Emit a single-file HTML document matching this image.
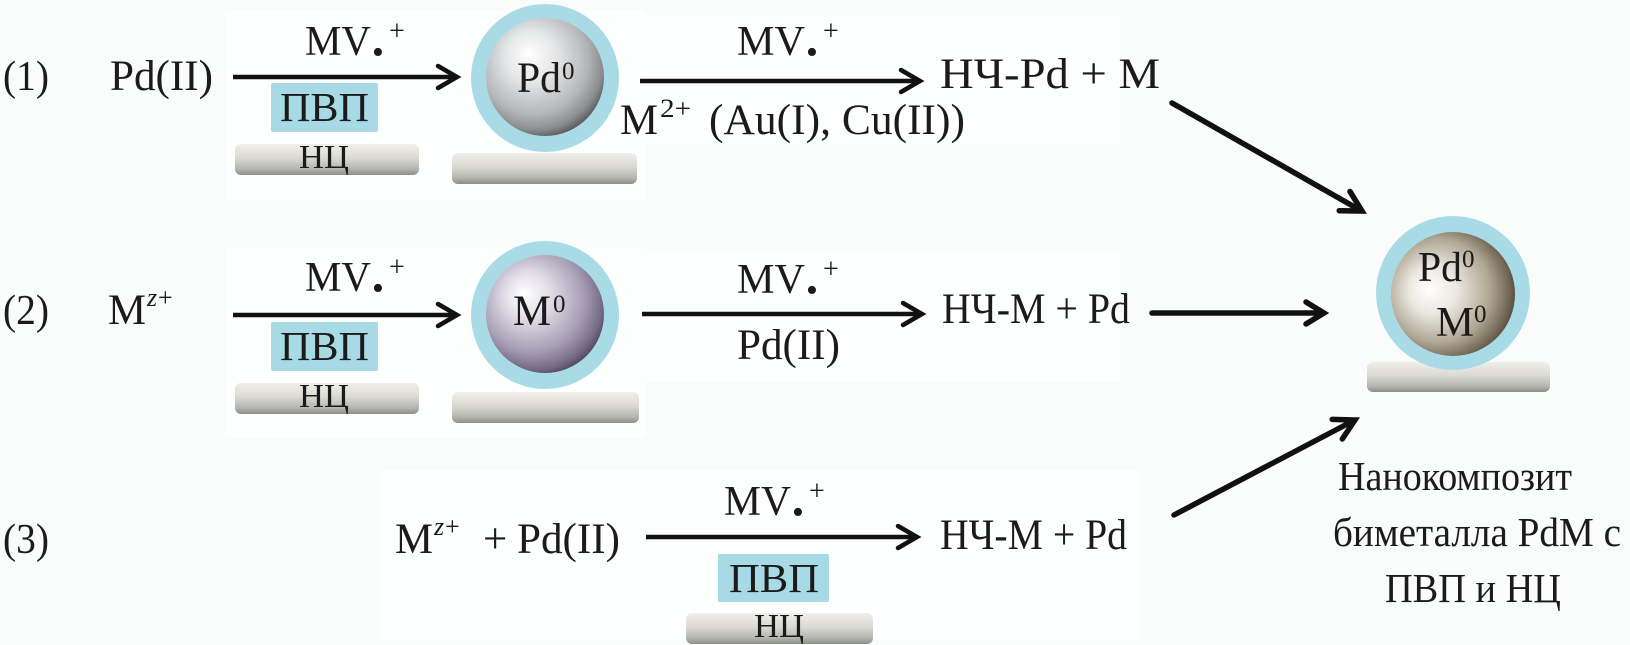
<!DOCTYPE html>
<html>
<head>
<meta charset="utf-8">
<style>
  html, body { margin: 0; padding: 0; background: #fafcfc; }
  svg { display: block; }
  text { font-family: "Liberation Serif", "Times New Roman", Times, "Noto Serif CJK SC", "DejaVu Serif", serif; fill: #1b1b1b; }
</style>
</head>
<body>
<svg width="1630" height="645" viewBox="0 0 1630 645" xmlns="http://www.w3.org/2000/svg" font-family="Liberation Serif, Times New Roman, Noto Serif CJK SC, serif">
  <defs>
    <radialGradient id="silver" cx="0.42" cy="0.38" r="0.64" fx="0.36" fy="0.3">
      <stop offset="0" stop-color="#ffffff"/>
      <stop offset="0.35" stop-color="#e4e5e6"/>
      <stop offset="0.72" stop-color="#b3b5b7"/>
      <stop offset="0.9" stop-color="#8a8c8e"/>
      <stop offset="1" stop-color="#5a5c5e"/>
    </radialGradient>
    <radialGradient id="purple" cx="0.42" cy="0.4" r="0.64" fx="0.32" fy="0.32">
      <stop offset="0" stop-color="#ffffff"/>
      <stop offset="0.3" stop-color="#e2dee8"/>
      <stop offset="0.7" stop-color="#a59cb3"/>
      <stop offset="0.9" stop-color="#756a86"/>
      <stop offset="1" stop-color="#4b425c"/>
    </radialGradient>
    <radialGradient id="brown" cx="0.42" cy="0.48" r="0.64" fx="0.3" fy="0.46">
      <stop offset="0" stop-color="#ffffff"/>
      <stop offset="0.3" stop-color="#ebe8e1"/>
      <stop offset="0.65" stop-color="#b1a895"/>
      <stop offset="0.88" stop-color="#6c6150"/>
      <stop offset="1" stop-color="#3c3224"/>
    </radialGradient>
    <linearGradient id="bar" x1="0" y1="0" x2="0" y2="1">
      <stop offset="0" stop-color="#f0efe9"/>
      <stop offset="0.45" stop-color="#dadad2"/>
      <stop offset="0.8" stop-color="#b4b5b0"/>
      <stop offset="1" stop-color="#8c8e8a"/>
    </linearGradient>
  </defs>

  <!-- faint white patches -->
  <rect x="225" y="10" width="420" height="190" fill="#ffffff" opacity="0.55"/>
  <rect x="640" y="15" width="480" height="130" fill="#ffffff" opacity="0.55"/>
  <rect x="225" y="248" width="420" height="190" fill="#ffffff" opacity="0.55"/>
  <rect x="640" y="252" width="480" height="130" fill="#ffffff" opacity="0.55"/>
  <rect x="380" y="470" width="760" height="170" fill="#ffffff" opacity="0.55"/>

  <!-- ================= ROW 1 ================= -->
  <text x="3" y="90" font-size="42" textLength="46" lengthAdjust="spacingAndGlyphs">(1)</text>
  <text x="110" y="90" font-size="43" textLength="103" lengthAdjust="spacingAndGlyphs">Pd(II)</text>

  <!-- arrow A1 -->
  <line x1="233" y1="77" x2="455" y2="77" stroke="#111" stroke-width="4.5"/>
  <polyline points="438,66 457,77 438,88" fill="none" stroke="#111" stroke-width="4.5" stroke-linecap="round" stroke-linejoin="miter"/>
  <text x="305" y="55" font-size="42" textLength="66" lengthAdjust="spacingAndGlyphs">MV</text>
  <text x="372" y="63" font-size="34">•</text>
  <text x="389" y="40" font-size="28">+</text>

  <rect x="271" y="83" width="107" height="49" rx="2" fill="#a8dae6"/>
  <text x="280" y="121" font-size="41" textLength="89" lengthAdjust="spacingAndGlyphs">ПВП</text>
  <rect x="235" y="144" width="184" height="31" rx="6" fill="url(#bar)"/>
  <text x="299" y="168" font-size="34" textLength="50" lengthAdjust="spacingAndGlyphs">НЦ</text>

  <!-- particle Pd0 -->
  <rect x="452" y="153" width="185" height="31" rx="6" fill="url(#bar)"/>
  <circle cx="545" cy="78" r="74" fill="#a9dbe6"/>
  <circle cx="545" cy="77" r="59" fill="url(#silver)"/>
  <text x="517" y="92" font-size="43" textLength="44" lengthAdjust="spacingAndGlyphs">Pd</text>
  <text x="562" y="79" font-size="25">0</text>

  <!-- arrow A2 -->
  <line x1="640" y1="81" x2="918" y2="81" stroke="#111" stroke-width="4.5"/>
  <polyline points="901,70 920,81 901,92" fill="none" stroke="#111" stroke-width="4.5" stroke-linecap="round"/>
  <text x="737" y="55" font-size="42" textLength="68" lengthAdjust="spacingAndGlyphs">MV</text>
  <text x="806" y="63" font-size="34">•</text>
  <text x="823" y="40" font-size="28">+</text>

  <text x="940" y="88" font-size="43" textLength="220" lengthAdjust="spacingAndGlyphs">НЧ-Pd + M</text>

  <text x="620" y="134" font-size="43" textLength="38" lengthAdjust="spacingAndGlyphs">M</text>
  <text x="660" y="117" font-size="26" textLength="31" lengthAdjust="spacingAndGlyphs">2+</text>
  <text x="709" y="134" font-size="43" textLength="256" lengthAdjust="spacingAndGlyphs">(Au(I), Cu(II))</text>

  <!-- ================= ROW 2 ================= -->
  <text x="3" y="324" font-size="42" textLength="46" lengthAdjust="spacingAndGlyphs">(2)</text>
  <text x="108" y="324" font-size="43" textLength="38" lengthAdjust="spacingAndGlyphs">M</text>
  <text x="147" y="306" font-size="26" font-style="italic">z</text>
  <text x="158" y="306" font-size="26">+</text>

  <!-- arrow A3 -->
  <line x1="233" y1="315" x2="455" y2="315" stroke="#111" stroke-width="4.5"/>
  <polyline points="438,304 457,315 438,326" fill="none" stroke="#111" stroke-width="4.5" stroke-linecap="round"/>
  <text x="305" y="291" font-size="42" textLength="66" lengthAdjust="spacingAndGlyphs">MV</text>
  <text x="372" y="299" font-size="34">•</text>
  <text x="389" y="276" font-size="28">+</text>

  <rect x="271" y="322" width="107" height="49" rx="2" fill="#a8dae6"/>
  <text x="280" y="360" font-size="41" textLength="89" lengthAdjust="spacingAndGlyphs">ПВП</text>
  <rect x="235" y="383" width="184" height="31" rx="6" fill="url(#bar)"/>
  <text x="299" y="407" font-size="34" textLength="50" lengthAdjust="spacingAndGlyphs">НЦ</text>

  <!-- particle M0 -->
  <rect x="452" y="392" width="187" height="31" rx="6" fill="url(#bar)"/>
  <circle cx="545" cy="315" r="74" fill="#a9dbe6"/>
  <circle cx="545" cy="314" r="59" fill="url(#purple)"/>
  <text x="513" y="325" font-size="43" textLength="38" lengthAdjust="spacingAndGlyphs">M</text>
  <text x="553" y="312" font-size="25">0</text>

  <!-- arrow A4 -->
  <line x1="642" y1="314" x2="920" y2="314" stroke="#111" stroke-width="4.5"/>
  <polyline points="903,303 922,314 903,325" fill="none" stroke="#111" stroke-width="4.5" stroke-linecap="round"/>
  <text x="737" y="293" font-size="42" textLength="68" lengthAdjust="spacingAndGlyphs">MV</text>
  <text x="806" y="301" font-size="34">•</text>
  <text x="823" y="278" font-size="28">+</text>
  <text x="737" y="359" font-size="43" textLength="103" lengthAdjust="spacingAndGlyphs">Pd(II)</text>

  <text x="942" y="323" font-size="43" textLength="188" lengthAdjust="spacingAndGlyphs">НЧ-M + Pd</text>

  <!-- ================= ROW 3 ================= -->
  <text x="3" y="553" font-size="42" textLength="46" lengthAdjust="spacingAndGlyphs">(3)</text>
  <text x="395" y="553" font-size="43" textLength="38" lengthAdjust="spacingAndGlyphs">M</text>
  <text x="434" y="535" font-size="26" font-style="italic">z</text>
  <text x="445" y="535" font-size="26">+</text>
  <text x="483" y="553" font-size="43">+</text>
  <text x="517" y="553" font-size="43" textLength="103" lengthAdjust="spacingAndGlyphs">Pd(II)</text>

  <!-- arrow A5 -->
  <line x1="646" y1="537" x2="915" y2="537" stroke="#111" stroke-width="4.5"/>
  <polyline points="898,526 917,537 898,548" fill="none" stroke="#111" stroke-width="4.5" stroke-linecap="round"/>
  <text x="724" y="515" font-size="42" textLength="67" lengthAdjust="spacingAndGlyphs">MV</text>
  <text x="792" y="523" font-size="34">•</text>
  <text x="809" y="500" font-size="28">+</text>

  <rect x="718" y="554" width="111" height="48" rx="2" fill="#a8dae6"/>
  <text x="729" y="592" font-size="41" textLength="90" lengthAdjust="spacingAndGlyphs">ПВП</text>
  <rect x="686" y="613" width="187" height="31" rx="6" fill="url(#bar)"/>
  <text x="754" y="637" font-size="34" textLength="50" lengthAdjust="spacingAndGlyphs">НЦ</text>

  <text x="940" y="549" font-size="43" textLength="187" lengthAdjust="spacingAndGlyphs">НЧ-M + Pd</text>

  <!-- ================= CONVERGING ARROWS ================= -->
  <line x1="1172" y1="103" x2="1358" y2="209" stroke="#111" stroke-width="5.5" stroke-linecap="round"/>
  <polyline points="1339.2,210.7 1362,211 1350,191.5" fill="none" stroke="#111" stroke-width="5.5" stroke-linecap="round" stroke-linejoin="miter"/>

  <line x1="1152" y1="313" x2="1320" y2="313" stroke="#111" stroke-width="5.5" stroke-linecap="round"/>
  <polyline points="1306,302 1324,313 1306,324" fill="none" stroke="#111" stroke-width="5.5" stroke-linecap="round"/>

  <line x1="1174" y1="515" x2="1351" y2="422" stroke="#111" stroke-width="5.5" stroke-linecap="round"/>
  <polyline points="1342.3,439 1355,420 1332.2,419.4" fill="none" stroke="#111" stroke-width="5.5" stroke-linecap="round" stroke-linejoin="miter"/>

  <!-- final particle -->
  <rect x="1367" y="362" width="183" height="30" rx="6" fill="url(#bar)"/>
  <circle cx="1453" cy="293" r="77" fill="#a9dbe6"/>
  <circle cx="1453" cy="294" r="62" fill="url(#brown)"/>
  <text x="1418" y="281" font-size="42" textLength="44" lengthAdjust="spacingAndGlyphs">Pd</text>
  <text x="1462" y="267" font-size="25">0</text>
  <text x="1436" y="336" font-size="42" textLength="38" lengthAdjust="spacingAndGlyphs">M</text>
  <text x="1474" y="322" font-size="25">0</text>

  <text x="1338" y="490" font-size="41" textLength="234" lengthAdjust="spacingAndGlyphs">Нанокомпозит</text>
  <text x="1333" y="546" font-size="41" textLength="288" lengthAdjust="spacingAndGlyphs">биметалла PdM с</text>
  <text x="1385" y="602" font-size="41" textLength="176" lengthAdjust="spacingAndGlyphs">ПВП и НЦ</text>
</svg>
</body>
</html>
